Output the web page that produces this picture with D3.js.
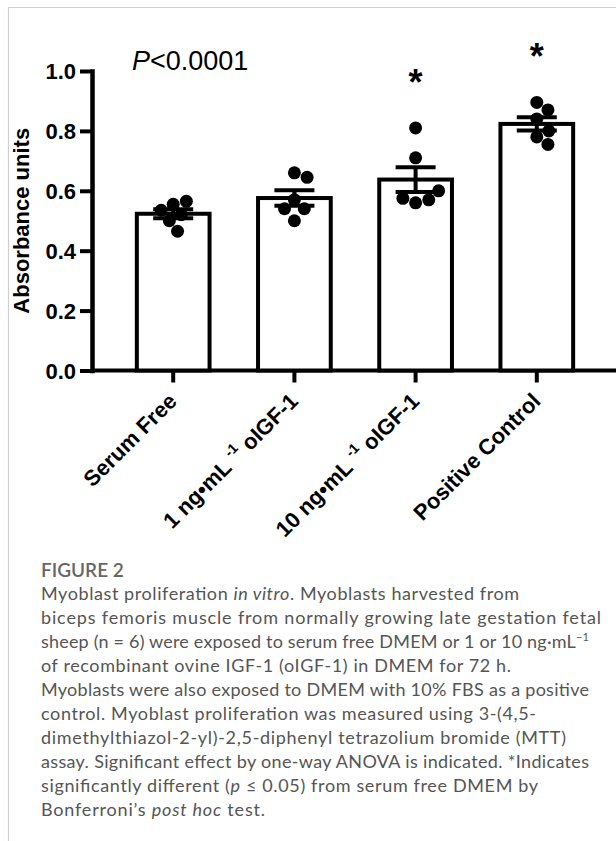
<!DOCTYPE html>
<html>
<head>
<meta charset="utf-8">
<script src="https://cdn.jsdelivr.net/npm/d3@7"></script>
<style>
  html, body { margin: 0; padding: 0; background: #fff; }
  svg { display: block; }
</style>
</head>
<body>
<div id="vis"></div>
<script>
// data
const categories = ["Serum Free", "1 ng•mL ^-1^ oIGF-1", "10 ng•mL ^-1^ oIGF-1", "Positive Control"];
const serumFree = [0.555, 0.52, 0.535, 0.565, 0.50, 0.465];
const igf1 = [0.66, 0.645, 0.57, 0.54, 0.54, 0.50];
const igf10 = [0.81, 0.71, 0.56, 0.57, 0.575, 0.60];
const positiveControl = [0.895, 0.87, 0.84, 0.78, 0.755, 0.80];
const significance = ["", "", "*", "*"];
const yTicks = [0, 0.2, 0.4, 0.6, 0.8, 1.0];
const yTitle = "Absorbance units";
const anovaText = ["P", "<0.0001"];

const figureLabel = "FIGURE 2";
// each caption line is a list of [text, italic]
const captionLines = [
    [["Myoblast proliferation ", false], ["in vitro", true], [". Myoblasts harvested from", false]],
    [["biceps femoris muscle from normally growing late gestation fetal", false]],
    [["sheep (n = 6) were exposed to serum free DMEM or 1 or 10 ng·mL", false], ["sup:−1", false]],
    [["of recombinant ovine IGF-1 (oIGF-1) in DMEM for 72 h.", false]],
    [["Myoblasts were also exposed to DMEM with 10% FBS as a positive", false]],
    [["control. Myoblast proliferation was measured using 3-(4,5-", false]],
    [["dimethylthiazol-2-yl)-2,5-diphenyl tetrazolium bromide (MTT)", false]],
    [["assay. Significant effect by one-way ANOVA is indicated. *Indicates", false]],
    [["significantly different (", false], ["p", true], [" ≤ 0.05) from serum free DMEM by", false]],
    [["Bonferroni’s ", false], ["post hoc", true], [" test.", false]]
];
const captionEnds = [519, 601, 589, 511, 589, 536, 566, 589, 538, 265];

const groups = [serumFree, igf1, igf10, positiveControl];

////////////////////////////////////////
////////////// Setup ///////////////////
////////////////////////////////////////

const width = 616, height = 841;
const font = "'Liberation Sans', Arial, sans-serif";
const capFont = "Lato, 'Open Sans', sans-serif";

const svg = d3.select("#vis").append("svg")
    .attr("width", width)
    .attr("height", height);

svg.append("rect").attr("width", width).attr("height", height).attr("fill", "#fff");

// light frame on top and left
svg.append("path")
    .attr("d", `M8.5,${height} V7.5 H${width}`)
    .attr("fill", "none")
    .attr("stroke", "#cfcfcf")
    .attr("stroke-width", 1.2);

const axisX = 92, baseY = 370.5, topY = 71;

const x = d3.scaleBand()
    .domain(categories)
    .range([axisX, 618])
    .paddingInner(0.4)
    .paddingOuter(0.37);

const y = d3.scaleLinear()
    .domain([0, 1])
    .range([baseY, topY]);

const stats = groups.map((vals, i) => {
    const mean = d3.mean(vals);
    const sem = d3.deviation(vals) / Math.sqrt(vals.length);
    return { cat: categories[i], vals, mean, sem, sig: significance[i] };
});

////////////////////////////////////////
////////////// Axes ////////////////////
////////////////////////////////////////

const yAxis = svg.append("g")
    .attr("transform", `translate(${axisX},0)`)
    .call(d3.axisLeft(y).tickValues(yTicks).tickFormat(d3.format(".1f"))
        .tickSize(12).tickSizeOuter(0).tickPadding(4));

yAxis.select(".domain").attr("stroke-width", 4.5).attr("stroke-linecap", "square");
yAxis.selectAll(".tick line").attr("stroke-width", 4);
yAxis.selectAll(".tick text")
    .attr("font-family", font)
    .attr("font-weight", "bold")
    .attr("font-size", 22)
    .attr("fill", "#000")
    .attr("dy", "0.36em");

const xAxis = svg.append("g")
    .attr("transform", `translate(0,${baseY})`)
    .call(d3.axisBottom(x).tickSize(12).tickSizeOuter(0).tickFormat(""));

xAxis.select(".domain")
    .attr("d", `M${axisX},0H${width}`)
    .attr("stroke-width", 4);
xAxis.selectAll(".tick line").attr("stroke-width", 4);

// rotated category labels with superscript
xAxis.selectAll(".tick").each(function (d) {
    const t = d3.select(this).append("text")
        .attr("transform", "translate(5,32) rotate(-45)")
        .attr("text-anchor", "end")
        .attr("font-family", font)
        .attr("font-weight", "bold")
        .attr("font-size", 22)
        .attr("fill", "#000");
    const parts = d.split(/\^(.*?)\^/);
    parts.forEach((p, k) => {
        if (k % 2 === 1) {
            t.append("tspan").attr("font-size", 14).attr("dy", -10).text(p);
        } else {
            t.append("tspan").attr("dy", k > 0 ? 10 : 0).text(p);
        }
    });
});

svg.append("text")
    .attr("transform", `translate(29,${(baseY + topY) / 2}) rotate(-90)`)
    .attr("text-anchor", "middle")
    .attr("font-family", font)
    .attr("font-weight", "bold")
    .attr("font-size", 22)
    .text(yTitle);

////////////////////////////////////////
////////////// Bars ////////////////////
////////////////////////////////////////

const bw = x.bandwidth();

svg.selectAll(".bar")
    .data(stats)
    .join("rect")
    .attr("class", "bar")
    .attr("x", d => x(d.cat))
    .attr("y", d => y(d.mean))
    .attr("width", bw)
    .attr("height", d => baseY - y(d.mean))
    .attr("fill", "#fff")
    .attr("stroke", "#000")
    .attr("stroke-width", 4);

// mean +/- SEM
const capW = 40;
const err = svg.selectAll(".err")
    .data(stats)
    .join("g")
    .attr("class", "err")
    .attr("transform", d => `translate(${x(d.cat) + bw / 2},0)`);

err.append("line")
    .attr("y1", d => y(d.mean + d.sem))
    .attr("y2", d => y(d.mean - d.sem))
    .attr("stroke", "#000").attr("stroke-width", 4);
err.append("line")
    .attr("x1", -capW / 2).attr("x2", capW / 2)
    .attr("y1", d => y(d.mean + d.sem)).attr("y2", d => y(d.mean + d.sem))
    .attr("stroke", "#000").attr("stroke-width", 4);
err.append("line")
    .attr("x1", -capW / 2).attr("x2", capW / 2)
    .attr("y1", d => y(d.mean - d.sem)).attr("y2", d => y(d.mean - d.sem))
    .attr("stroke", "#000").attr("stroke-width", 4);

////////////////////////////////////////
////////////// Dots ////////////////////
////////////////////////////////////////

const r = 6.5;

// simple beeswarm so dots do not overlap
function swarm(vals) {
    const placed = [];
    vals.forEach(v => {
        const py = y(v);
        const cands = [0];
        placed.forEach(p => {
            const dy = Math.abs(p.y - py);
            if (dy < 2 * r) {
                const dx = Math.sqrt(4 * r * r - dy * dy) + 0.5;
                cands.push(p.x + dx, p.x - dx);
            }
        });
        cands.sort((a, b) => Math.abs(a) - Math.abs(b));
        const px = cands.find(c => placed.every(p => Math.hypot(p.x - c, p.y - py) >= 2 * r - 0.1));
        placed.push({ x: px, y: py, v });
    });
    return placed;
}

stats.forEach(s => {
    const cx = x(s.cat) + bw / 2;
    svg.append("g").selectAll("circle")
        .data(swarm(s.vals))
        .join("circle")
        .attr("cx", d => cx + d.x)
        .attr("cy", d => d.y)
        .attr("r", r)
        .attr("fill", "#000");
});

// significance stars
svg.selectAll(".star")
    .data(stats.filter(d => d.sig))
    .join("text")
    .attr("class", "star")
    .attr("x", d => x(d.cat) + bw / 2)
    .attr("y", d => y(d3.max(d.vals)) - 33)
    .attr("text-anchor", "middle")
    .attr("font-family", font)
    .attr("font-weight", "bold")
    .attr("font-size", 36)
    .text(d => d.sig);

// ANOVA result
const pt = svg.append("text")
    .attr("x", 132)
    .attr("y", 70)
    .attr("font-family", font)
    .attr("font-size", 27)
    .attr("fill", "#000");
pt.append("tspan").attr("font-style", "italic").text(anovaText[0]);
pt.append("tspan").text(anovaText[1]);

////////////////////////////////////////
////////////// Caption /////////////////
////////////////////////////////////////

const capX = 41;

svg.append("text")
    .attr("x", capX)
    .attr("y", 577)
    .attr("font-family", capFont)
    .attr("font-weight", 600)
    .attr("font-size", 19)
    .attr("fill", "#666")
    .text(figureLabel);

captionLines.forEach((line, i) => {
    const t = svg.append("text")
        .attr("x", capX)
        .attr("y", 600 + i * 24)
        .attr("font-family", capFont)
        .attr("font-size", 18)
        .attr("fill", "#555")
        .attr("textLength", captionEnds[i] - capX)
        .attr("lengthAdjust", "spacing");
    line.forEach(([txt, it]) => {
        if (txt.startsWith("sup:")) {
            t.append("tspan").attr("font-size", 11).attr("dy", -7).text(txt.slice(4));
        } else {
            t.append("tspan").attr("font-style", it ? "italic" : "normal").text(txt);
        }
    });
});
</script>
</body>
</html>
